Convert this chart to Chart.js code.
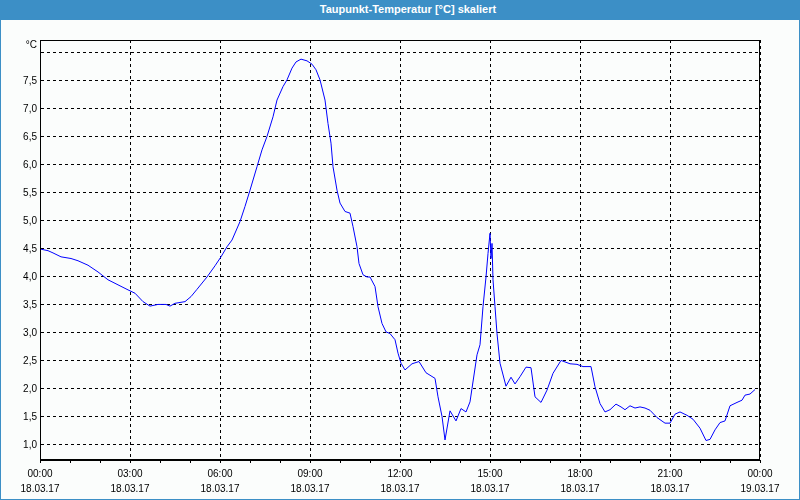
<!DOCTYPE html>
<html>
<head>
<meta charset="utf-8">
<title>Taupunkt-Temperatur</title>
<script src="https://cdn.jsdelivr.net/npm/chart.js@4"></script>
<style>
  html, body { margin: 0; padding: 0; }
  body { width: 800px; height: 500px; position: relative; overflow: hidden; background: #fbfdfc; }
  #chart { position: absolute; left: 0; top: 0; }
  .title-bar {
    position: absolute; left: 0; top: 0; width: 800px; height: 20px;
    background: #3c8fc6; color: #fff; text-align: center;
    font: bold 11px 'Liberation Sans', sans-serif; line-height: 19px;
    padding-left: 16px; box-sizing: border-box;
  }
  .frame {
    position: absolute; left: 0; top: 0; width: 800px; height: 500px;
    border: 1px solid #3c8fc6; box-sizing: border-box; pointer-events: none;
  }
</style>
</head>
<body>
<canvas id="chart" width="800" height="500"></canvas>
<div class="title-bar">Taupunkt-Temperatur [°C] skaliert</div>
<div class="frame"></div>
<script>
// minutes since 18.03.17 00:00
const minutes = [
  0, 16, 26, 42, 62, 76, 96, 116, 136, 156, 176, 190, 206, 220, 236, 252, 260, 270, 290, 302,
  314, 334, 350, 362, 374, 384, 400, 410, 420, 434, 444, 454, 466, 474, 486, 494, 504, 512, 522, 534,
  544, 552, 560, 570, 576, 582, 586, 594, 600, 610, 620, 626, 634, 638, 646, 654, 660, 670, 676, 684,
  692, 700, 710, 716, 722, 730, 744, 758, 772, 790, 796, 804, 810, 820, 832, 842, 852, 860, 864, 874,
  880, 886, 892, 896, 900, 902, 904, 906, 910, 914, 920, 932, 942, 950, 960, 972, 982, 990, 1002, 1014,
  1026, 1042, 1060, 1074, 1086, 1102, 1110, 1120, 1130, 1140, 1152, 1162, 1170, 1180, 1190, 1200, 1210, 1220, 1234, 1250,
  1260, 1270, 1280, 1294, 1306, 1320, 1332, 1340, 1350, 1360, 1370, 1380, 1394, 1404, 1410, 1420, 1430
];
// dew point in °C
const dewPoint = [
  4.50, 4.47, 4.43, 4.36, 4.33, 4.29, 4.21, 4.09, 3.95, 3.86, 3.77, 3.71, 3.56, 3.48, 3.51, 3.51, 3.48, 3.53, 3.56, 3.65,
  3.78, 4.00, 4.20, 4.36, 4.54, 4.66, 4.99, 5.26, 5.55, 5.97, 6.27, 6.51, 6.86, 7.16, 7.40, 7.52, 7.73, 7.84, 7.89, 7.86,
  7.80, 7.70, 7.52, 7.16, 6.74, 6.39, 5.97, 5.55, 5.32, 5.17, 5.14, 4.90, 4.54, 4.24, 4.04, 4.00, 4.00, 3.83, 3.47, 3.17,
  3.02, 2.99, 2.88, 2.64, 2.46, 2.34, 2.45, 2.49, 2.29, 2.19, 1.86, 1.51, 1.09, 1.61, 1.43, 1.65, 1.59, 1.77, 2.01, 2.61,
  2.79, 3.47, 4.00, 4.42, 4.78, 4.33, 4.60, 3.95, 3.47, 2.99, 2.46, 2.05, 2.21, 2.09, 2.22, 2.39, 2.38, 1.86, 1.76, 1.98,
  2.28, 2.51, 2.45, 2.44, 2.40, 2.40, 2.04, 1.74, 1.59, 1.63, 1.73, 1.68, 1.63, 1.70, 1.66, 1.68, 1.66, 1.62, 1.49, 1.39,
  1.39, 1.55, 1.59, 1.53, 1.46, 1.30, 1.08, 1.10, 1.27, 1.40, 1.43, 1.70, 1.76, 1.80, 1.89, 1.91, 1.99
];

const timeLabels = ['00:00', '03:00', '06:00', '09:00', '12:00', '15:00', '18:00', '21:00', '00:00'];
const dateLabels = ['18.03.17', '18.03.17', '18.03.17', '18.03.17', '18.03.17', '18.03.17', '18.03.17', '18.03.17', '19.03.17'];
const yGridValues = [1.0, 1.5, 2.0, 2.5, 3.0, 3.5, 4.0, 4.5, 5.0, 5.5, 6.0, 6.5, 7.0, 7.5, 8.0];
const unitLabel = '°C';

const hourMarks = [];
for (let m = 0; m <= 1440; m += 60) hourMarks.push(m);

const axisFont = { family: 'Liberation Sans', size: 10, lineHeight: 1.5 };

// solid frame round the plot area and the unit label above the y axis
const framePlugin = {
  id: 'frame',
  afterDraw(chart) {
    const { ctx, chartArea: a } = chart;
    ctx.save();
    ctx.strokeStyle = '#000';
    ctx.lineWidth = 1;
    ctx.setLineDash([]);
    ctx.strokeRect(a.left + 0.5, a.top + 0.5, a.right - a.left - 1, a.bottom - a.top - 1);
    ctx.fillStyle = '#000';
    ctx.font = '10px "Liberation Sans"';
    ctx.textAlign = 'right';
    ctx.textBaseline = 'middle';
    ctx.fillText(unitLabel, a.left - 3, a.top + 5);
    ctx.restore();
  }
};

const ctx = document.getElementById('chart').getContext('2d');
new Chart(ctx, {
  type: 'line',
  data: {
    datasets: [{
      data: minutes.map((m, i) => ({ x: m, y: dewPoint[i] })),
      borderColor: '#0000ff',
      borderWidth: 1,
      pointRadius: 0,
      tension: 0,
      fill: false,
    }]
  },
  options: {
    responsive: false,
    animation: false,
    events: [],
    layout: { padding: { top: 40, right: 40, left: 0, bottom: 0 } },
    plugins: {
      legend: { display: false },
      tooltip: { enabled: false },
    },
    scales: {
      x: {
        type: 'linear',
        min: 0,
        max: 1440,
        afterBuildTicks: (scale) => { scale.ticks = hourMarks.map(v => ({ value: v })); },
        afterFit: (scale) => { scale.height = 40; },
        grid: {
          color: (c) => (c.tick && c.tick.value % 180 === 0 ? '#000' : 'rgba(0,0,0,0)'),
          tickColor: '#000',
          tickLength: 3,
          lineWidth: 1,
        },
        border: { display: true, color: '#000', dash: [3, 3] },
        ticks: {
          autoSkip: false,
          maxRotation: 0,
          padding: 4,
          color: '#000',
          font: axisFont,
          callback: (v) => (v % 180 === 0 ? [timeLabels[v / 180], dateLabels[v / 180]] : ''),
        },
      },
      y: {
        min: 0.732,
        max: 8.232,
        afterBuildTicks: (scale) => { scale.ticks = yGridValues.map(v => ({ value: v })); },
        afterFit: (scale) => { scale.width = 40; },
        grid: { color: '#000', lineWidth: 1, drawTicks: false },
        border: { display: true, color: '#000', dash: [3, 3] },
        ticks: {
          padding: 3,
          color: '#000',
          font: axisFont,
          callback: (v) => (v === 8 ? '' : v.toFixed(1).replace('.', ',')),
        },
      },
    },
  },
  plugins: [framePlugin],
});
</script>
</body>
</html>
